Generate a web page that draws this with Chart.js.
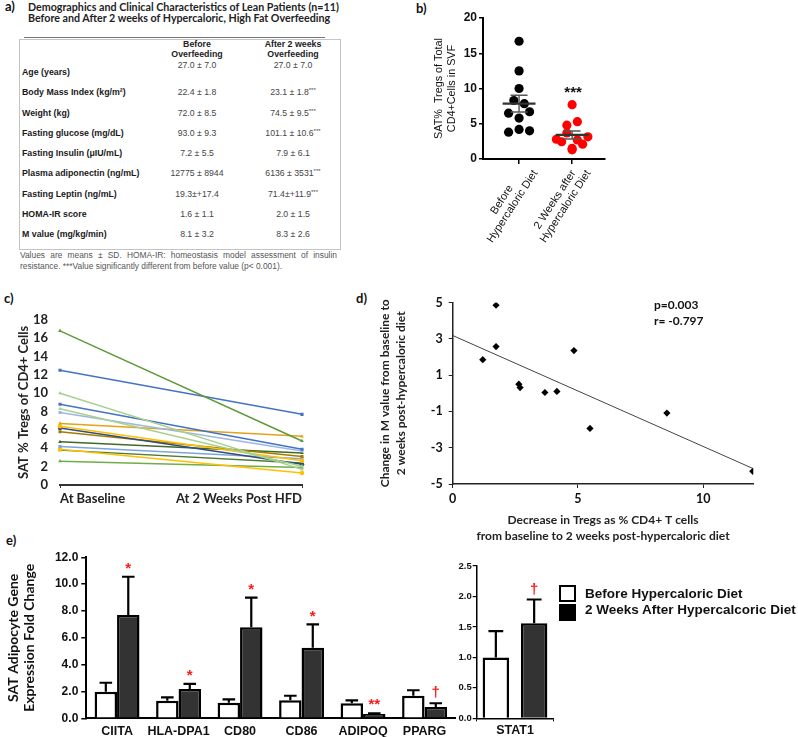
<!DOCTYPE html>
<html><head><meta charset="utf-8">
<script src="https://cdn.jsdelivr.net/npm/chart.js@4.4.1/dist/chart.umd.min.js"></script>
<style>
html,body{margin:0;padding:0;background:#fff;}
body{width:798px;height:737px;position:relative;overflow:hidden;font-family:"Liberation Sans",Arial,sans-serif;}
.a{position:absolute;white-space:nowrap;}
.pl{font-family:Lato;font-weight:700;font-size:13px;color:#111;line-height:14px;}
.tt{font-family:Lato;font-weight:700;font-size:10.7px;color:#222;line-height:11px;}
.lab{font-weight:700;font-size:8.8px;color:#1a1a1a;line-height:10px;}
.val{font-size:8.7px;color:#444;line-height:10px;}
.val sup{font-size:6px;vertical-align:3px;line-height:0;}
.hdr{font-weight:700;font-size:8.8px;color:#222;line-height:10px;text-align:center;}
.fn{font-size:8.4px;color:#555;line-height:11px;}
.ann{font-family:Lato;font-weight:700;font-size:12px;color:#111;line-height:16px;}
.leg{font-weight:700;font-size:13.5px;color:#111;line-height:16px;}
.box{position:absolute;width:13px;height:13px;border:2px solid #000;}
canvas{position:absolute;}
</style></head><body>
<script>
// ---------- DATA ----------
// a) table
const tableRows = ['Age (years)','Body Mass Index (kg/m²)','Weight (kg)','Fasting glucose (mg/dL)','Fasting Insulin (μIU/mL)','Plasma adiponectin (ng/mL)','Fasting Leptin (ng/mL)','HOMA-IR score','M value (mg/kg/min)'];
const tableBefore = ['27.0 ± 7.0','22.4 ± 1.8','72.0 ± 8.5','93.0 ± 9.3','7.2 ± 5.5','12775 ± 8944','19.3±+17.4','1.6 ± 1.1','8.1 ± 3.2'];
const tableAfter = ['27.0 ± 7.0','23.1 ± 1.8***','74.5 ± 9.5***','101.1 ± 10.6***','7.9 ± 6.1','6136 ± 3531***','71.4±+11.9***','2.0 ± 1.5','8.3 ± 2.6'];
const tableHeaders = [['Before','Overfeeding'],['After 2 weeks','Overfeeding']];
// b) SAT % Tregs
const bCats = [['Before','Hypercaloric Diet'],['2 Weeks after','Hypercaloric Diet']];
const bBefore = [16.7,12.5,10.0,8.3,7.85,6.5,5.8,6.7,3.8,4.2,4.0];
const bAfter = [7.7,4.8,5.3,2.8,3.7,2.7,3.15,2.45,1.5,2.1,1.3];
const bSig = ['','***'];
// c) paired lines
const cLabels = ['At Baseline','At 2 Weeks Post HFD'];
const cBaseline = [16.8,12.5,10.0,8.8,8.3,7.9,6.7,6.4,6.2,5.8,4.7,4.2,3.9,3.8,2.6];
const cWeek2    = [4.8,7.7,1.7,3.9,2.05,3.7,5.3,2.65,2.25,3.1,3.5,2.85,1.3,2.4,1.9];
// d) correlation
const dDecrease = [1.2,1.73,1.73,4.84,2.64,2.69,3.68,4.16,5.48,8.55,11.98];
const dChangeM  = [1.85,4.85,2.57,2.35,0.5,0.31,0.04,0.1,-1.94,-1.09,-4.3];
const dStats = ['p=0.003','r= -0.797'];
// e) gene expression
const eGenes = ['CIITA','HLA-DPA1','CD80','CD86','ADIPOQ','PPARG'];
const eBefore = [1.98,1.31,1.16,1.34,1.12,1.68];
const eBeforeErr = [0.67,0.25,0.25,0.34,0.22,0.41];
const eAfter = [7.7,2.18,6.78,5.26,0.32,0.84];
const eAfterErr = [2.85,0.38,2.21,1.74,0.05,0.28];
const eSig = ['*','*','*','*','**','†'];
const sGenes = ['STAT1'];
const sBefore = [1.0];
const sBeforeErr = [0.43];
const sAfter = [1.56];
const sAfterErr = [0.39];
const sSig = ['†'];
const eSeries = ['Before Hypercaloric Diet','2 Weeks After Hypercalcoric Diet'];

// ---------- HELPERS ----------
const B = document.body;
function div(cls, html, left, top, st){const d=document.createElement('div');d.className='a '+cls;d.innerHTML=html;d.style.left=left+'px';d.style.top=top+'px';if(st)Object.assign(d.style,st);B.appendChild(d);return d;}
function cv(left,top,w,h){const c=document.createElement('canvas');c.width=w;c.height=h;c.style.left=left+'px';c.style.top=top+'px';c.style.width=w+'px';c.style.height=h+'px';B.appendChild(c);return c;}
const ARIAL='"Liberation Sans", Arial, sans-serif';
const CAL='Lato, "Liberation Sans", sans-serif';
Chart.defaults.font.family=ARIAL;
Chart.defaults.color='#111';
const mean=a=>a.reduce((s,v)=>s+v,0)/a.length;
const sem=a=>{const m=mean(a);return Math.sqrt(a.reduce((s,v)=>s+(v-m)*(v-m),0)/(a.length-1))/Math.sqrt(a.length);};

// ---------- PANEL A (table) ----------
div('pl','a)',5,-1);
div('tt','Demographics and Clinical Characteristics of Lean Patients (n=11)<br>Before and After 2 weeks of Hypercaloric, High Fat Overfeeding',28,0.5);
div('','',24,37,{width:'301px',height:'0',borderTop:'1px solid #777'});
div('','',19,39,{width:'320px',height:'209px',border:'1px solid #c4c4c4'});
const colX=[197,293];
tableHeaders.forEach((h,i)=>div('hdr',h.join('<br>'),colX[i],39,{transform:'translateX(-50%)'}));
const fmt=s=>s.replace('***','<sup>***</sup>');
tableRows.forEach((r,i)=>{
  const yc=72+i*20.25;
  div('lab',r,22,yc-5);
  const yv=i===0?yc-7:yc;
  div('val',fmt(tableBefore[i]),colX[0],yv-5,{transform:'translateX(-50%)'});
  div('val',fmt(tableAfter[i]),colX[1],yv-5,{transform:'translateX(-50%)'});
});
div('fn','Values are means ± SD. HOMA-IR: homeostasis model assessment of insulin',20,249.5,{width:'317px',textAlign:'justify',textAlignLast:'justify'});
div('fn','resistance. ***Value significantly different from before value (p< 0.001).',20,260.5);

// ---------- PANEL LABELS ----------
div('pl','b)',416,1);
div('pl','c)',4,291);
div('pl','d)',356,291);
div('pl','e)',6,533);

// ---------- PANEL B ----------
const bPlugin={id:'bx',afterDatasetsDraw(ch){
  const {ctx,scales:{x,y}}=ch;
  [bBefore,bAfter].forEach((vals,g)=>{
    const m=mean(vals),s=sem(vals),cx=x.getPixelForValue(g);
    const hw=x.getPixelForValue(g+0.31)-cx, cw=x.getPixelForValue(g+0.16)-cx;
    ctx.save();ctx.strokeStyle='#555';ctx.lineWidth=1.4;
    ctx.beginPath();
    ctx.moveTo(cx,y.getPixelForValue(m-s));ctx.lineTo(cx,y.getPixelForValue(m+s));
    ctx.moveTo(cx-cw,y.getPixelForValue(m+s));ctx.lineTo(cx+cw,y.getPixelForValue(m+s));
    ctx.moveTo(cx-cw,y.getPixelForValue(m-s));ctx.lineTo(cx+cw,y.getPixelForValue(m-s));
    ctx.stroke();
    ctx.strokeStyle='#333';ctx.lineWidth=2.2;ctx.beginPath();
    ctx.moveTo(cx-hw,y.getPixelForValue(m));ctx.lineTo(cx+hw,y.getPixelForValue(m));ctx.stroke();
    if(bSig[g]){ctx.fillStyle='#111';ctx.font='bold 15px '+ARIAL;ctx.textAlign='center';ctx.textBaseline='middle';
      ctx.fillText(bSig[g],cx+1,y.getPixelForValue(Math.max(...vals))-12);}
    ctx.restore();
  });
},afterDraw(ch){
  const {ctx,scales:{x},chartArea}=ch;
  ctx.save();ctx.font='11px '+ARIAL;ctx.fillStyle='#111';ctx.textAlign='center';ctx.textBaseline='middle';
  bCats.forEach((lines,g)=>{
    const cx=x.getPixelForValue(g);const W=Math.max(...lines.map(l=>ctx.measureText(l).width));const lh=12.5;
    ctx.save();ctx.translate(cx+11,chartArea.bottom+9);ctx.rotate(-57*Math.PI/180);
    lines.forEach((l,i)=>ctx.fillText(l,-W/2,(i-(lines.length-1)/2)*lh));
    ctx.restore();
  });
  ctx.restore();
}};
const bChart=new Chart(cv(400,8,215,250),{type:'scatter',
  data:{datasets:[
    {data:bBefore.map(v=>({x:0,y:v})),backgroundColor:'#000',pointRadius:4.6,pointHoverRadius:4.6,borderWidth:0},
    {data:bAfter.map(v=>({x:1,y:v})),backgroundColor:'#ff0000',pointRadius:4.6,pointHoverRadius:4.6,borderWidth:0}]},
  options:{responsive:false,animation:false,devicePixelRatio:1,layout:{padding:{top:10,right:10,left:0,bottom:0}},
    plugins:{legend:{display:false},tooltip:{enabled:false}},
    scales:{
      x:{type:'linear',min:-0.68,max:1.62,afterBuildTicks:s=>{s.ticks=bCats.map((c,i)=>({value:i}));},afterFit:s=>{s.height=99;},
        ticks:{callback:()=>'' },grid:{drawOnChartArea:false,tickLength:5,color:'#000',lineWidth:1.5},border:{color:'#000',width:2}},
      y:{min:0,max:20,afterFit:s=>{s.width=83;},ticks:{stepSize:5,padding:2,font:{size:12,weight:'bold'},color:'#111'},
        grid:{drawOnChartArea:false,tickLength:4,color:'#000',lineWidth:1.5},border:{color:'#000',width:2},
        title:{display:true,text:['SAT%  Tregs of Total','CD4+Cells in SVF'],font:{size:10.8,lineHeight:1.15},color:'#111',padding:{top:33}}}}},
  plugins:[bPlugin]});
// beeswarm: group points into rows by value, spread each row centred
function swarm(vals,pxY,pxX,rowPx,stepPx){
  const idx=vals.map((v,i)=>i).sort((a,b)=>vals[b]-vals[a]);const rows=[];let cur=null;
  idx.forEach(i=>{if(!cur||(vals[cur[0]]-vals[i])*pxY>=rowPx){cur=[i];rows.push(cur);}else cur.push(i);});
  const off=new Array(vals.length).fill(0);
  rows.forEach(r=>{r.sort((a,b)=>a-b);r.forEach((i,k)=>{off[i]=(k-(r.length-1)/2)*stepPx/pxX;});});
  return off;}
{const ys=bChart.scales.y,xs=bChart.scales.x;const pxY=ys.getPixelForValue(0)-ys.getPixelForValue(1);const pxX=xs.getPixelForValue(1)-xs.getPixelForValue(0);
 [bBefore,bAfter].forEach((vals,g)=>{const off=swarm(vals,pxY,pxX,8,10.5);bChart.data.datasets[g].data=vals.map((v,i)=>({x:g+off[i],y:v}));});
 bChart.update('none');}

// ---------- PANEL C ----------
const cColors=['#5f9a38','#4472c4','#a9d18e','#4472c4','#a9d18e','#9db7e0','#e3a21a','#ffc000','#2f4d7e','#a67c00','#3f6a28','#7fa4dc','#ffc000','#4f7a30','#70ad47'];
const cMarkers=['triangle','rect','triangle','rect','triangle','rect','triangle','circle','circle','rect','triangle','rect','circle','triangle','triangle'];
new Chart(cv(0,300,330,215),{type:'line',
  data:{labels:cLabels,datasets:cBaseline.map((v,i)=>({data:[v,cWeek2[i]],borderColor:cColors[i],backgroundColor:cColors[i],borderWidth:1.5,pointStyle:cMarkers[i],pointRadius:2.2,pointBorderWidth:0}))},
  options:{responsive:false,animation:false,devicePixelRatio:1,layout:{padding:{top:11,right:28,left:0,bottom:0}},
    plugins:{legend:{display:false},tooltip:{enabled:false}},
    scales:{
      x:{offset:false,afterFit:s=>{s.height=30;},ticks:{align:'inner',padding:3,maxRotation:0,autoSkip:false,font:{family:CAL,size:13,weight:'bold'},color:'#222'},
        grid:{drawOnChartArea:false,tickLength:3,color:'#333',lineWidth:1},border:{color:'#333',width:2}},
      y:{min:0,max:18,afterFit:s=>{s.width=60;},ticks:{stepSize:2,autoSkip:false,padding:12,font:{family:CAL,size:13,weight:'bold'},color:'#222'},
        grid:{display:false,drawTicks:false},border:{display:false},
        title:{display:true,text:'SAT % Tregs of CD4+ Cells',font:{family:CAL,size:13,weight:'bold'},color:'#222',padding:{top:16}}}}}});

// ---------- PANEL D ----------
const dReg=(()=>{const mx=mean(dDecrease),my=mean(dChangeM);let sxy=0,sxx=0;dDecrease.forEach((x,i)=>{sxy+=(x-mx)*(dChangeM[i]-my);sxx+=(x-mx)*(x-mx);});const b=sxy/sxx;return {b,a:my-b*mx};})();
const dXmax=Math.max(...dDecrease);
new Chart(cv(360,289,430,256),{type:'scatter',
  data:{datasets:[
    {data:dDecrease.map((x,i)=>({x,y:dChangeM[i]})),pointStyle:'rectRot',pointRadius:3.6,backgroundColor:'#000',borderWidth:0},
    {type:'line',data:[{x:0,y:dReg.a},{x:dXmax,y:dReg.a+dReg.b*dXmax}],borderColor:'#444',borderWidth:1,pointRadius:0,showLine:true}]},
  options:{responsive:false,animation:false,devicePixelRatio:1,layout:{padding:{top:10,right:36.7,left:0,bottom:0}},
    plugins:{legend:{display:false},tooltip:{enabled:false}},
    scales:{
      x:{type:'linear',min:0,max:12,afterBuildTicks:s=>{s.ticks=s.ticks.filter(t=>t.value%5===0);},afterFit:s=>{s.height=61;},
        ticks:{stepSize:5,padding:3,font:{family:CAL,size:12.5,weight:'bold'},color:'#111'},
        grid:{drawOnChartArea:false,tickLength:4,color:'#222'},border:{color:'#222',width:1.5},
        title:{display:true,text:['Decrease in Tregs as % CD4+ T cells','from baseline to 2 weeks post-hypercaloric diet'],font:{family:CAL,size:12,weight:'bold',lineHeight:1.33},color:'#222',padding:{bottom:1,top:0}}},
      y:{min:-5,max:5,afterFit:s=>{s.width=92.7;},ticks:{stepSize:2,padding:6,font:{family:CAL,size:12.5,weight:'bold'},color:'#111'},
        grid:{drawOnChartArea:false,tickLength:4,color:'#222'},border:{color:'#222',width:1.5},
        title:{display:true,text:['Change in M value from baseline to','2 weeks post-hypercaloric diet'],font:{family:CAL,size:12,weight:'bold',lineHeight:1.33},color:'#222',padding:{top:17}}}}}});
div('ann',dStats.join('<br>'),654,297);

// ---------- PANEL E ----------
function errPlugin(errs,sigs){return {id:'err',afterDatasetsDraw(ch){
  const {ctx,scales:{y}}=ch;
  ch.data.datasets.forEach((ds,di)=>{const meta=ch.getDatasetMeta(di);
    meta.data.forEach((bar,i)=>{const v=ds.data[i],e=errs[di][i];const top=y.getPixelForValue(v+e);const x=bar.x;const cw=bar.width*0.28;
      ctx.save();ctx.strokeStyle='#000';ctx.lineWidth=2.2;ctx.beginPath();ctx.moveTo(x,bar.y);ctx.lineTo(x,top);ctx.moveTo(x-cw,top);ctx.lineTo(x+cw,top);ctx.stroke();
      if(di===1&&sigs[i]){ctx.fillStyle='#ff1a1a';ctx.font='bold 15px '+ARIAL;ctx.textAlign='center';ctx.textBaseline='middle';ctx.fillText(sigs[i],x,top-(sigs[i]==='†'?10:8));}
      ctx.restore();});});}};}
const barDs=(a,b)=>[
  {label:eSeries[0],data:a,backgroundColor:'#fff',borderColor:'#000',borderWidth:2.5},
  {label:eSeries[1],data:b,backgroundColor:'#333',borderColor:'#000',borderWidth:2.5}];
new Chart(cv(0,547,465,190),{type:'bar',
  data:{labels:eGenes,datasets:barDs(eBefore,eAfter)},
  options:{responsive:false,animation:false,devicePixelRatio:1,layout:{padding:{top:10.3,right:9.7,left:0,bottom:0}},
    datasets:{bar:{categoryPercentage:0.73,barPercentage:1.0}},
    plugins:{legend:{display:false},tooltip:{enabled:false}},
    scales:{
      x:{afterFit:s=>{s.height=18.7;},ticks:{padding:6,maxRotation:0,minRotation:0,autoSkip:false,font:{size:12.5,weight:'bold'},color:'#111'},grid:{display:false,drawTicks:false},border:{color:'#000',width:2}},
      y:{min:0,max:12,afterFit:s=>{s.width=86.3;},ticks:{stepSize:2,autoSkip:false,padding:3,font:{size:12,weight:'bold'},color:'#111',callback:v=>v.toFixed(1)},
        grid:{drawOnChartArea:false,tickLength:5,color:'#000',lineWidth:1.5},border:{color:'#000',width:2},
        title:{display:true,text:['SAT Adipocyte Gene','Expression Fold Change'],font:{family:CAL,size:14,weight:'bold',lineHeight:1.15},color:'#111',padding:{top:5}}}}},
  plugins:[errPlugin([eBeforeErr,eAfterErr],eSig)]});
new Chart(cv(440,556,123,181),{type:'bar',
  data:{labels:sGenes,datasets:barDs(sBefore,sAfter)},
  options:{responsive:false,animation:false,devicePixelRatio:1,layout:{padding:{top:10,right:9.7,left:0,bottom:0}},
    datasets:{bar:{categoryPercentage:1.0,barPercentage:0.69}},
    plugins:{legend:{display:false},tooltip:{enabled:false}},
    scales:{
      x:{afterFit:s=>{s.height=18.7;},ticks:{padding:2,maxRotation:0,font:{size:12.5,weight:'bold'},color:'#111'},grid:{drawOnChartArea:false,tickLength:3,color:'#000'},border:{color:'#000',width:1.5}},
      y:{min:0,max:2.5,afterFit:s=>{s.width=36.7;},ticks:{stepSize:0.5,autoSkip:false,padding:1,font:{size:9.5,weight:'bold'},color:'#111',callback:v=>v.toFixed(1)},
        grid:{drawOnChartArea:false,tickLength:4,color:'#000',lineWidth:1.2},border:{color:'#000',width:1.5}}}},
  plugins:[errPlugin([sBeforeErr,sAfterErr],sSig)]});
// legend
const bx1=document.createElement('div');bx1.className='box';bx1.style.left='559px';bx1.style.top='585px';bx1.style.background='#fff';B.appendChild(bx1);
const bx2=document.createElement('div');bx2.className='box';bx2.style.left='559px';bx2.style.top='604px';bx2.style.background='#000';B.appendChild(bx2);
div('leg',eSeries[0],585,586);
div('leg',eSeries[1],585,602);
</script>
</body></html>
